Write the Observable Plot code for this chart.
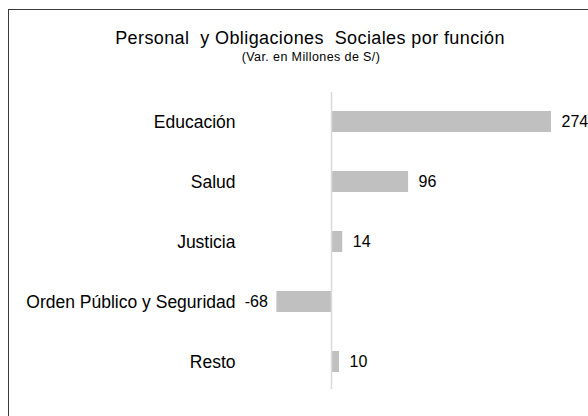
<!DOCTYPE html>
<html>
<head>
<meta charset="utf-8">
<script src="https://cdn.jsdelivr.net/npm/d3@7"></script>
<script src="https://cdn.jsdelivr.net/npm/@observablehq/plot@0.6"></script>
<style>
  html, body { margin: 0; padding: 0; background: #fff; }
  #wrap { position: relative; width: 588px; height: 416px; overflow: hidden; font-family: "Liberation Sans", Arial, sans-serif; }
  #frame { position: absolute; left: 8px; top: 9px; width: 640px; height: 460px; border: 1.5px solid #3a3a3a; box-sizing: border-box; }
  #title { position: absolute; left: 0; width: 620px; top: 28px; text-align: center; font-size: 18px; letter-spacing: 0.4px; color: #000; white-space: pre; line-height: normal; }
  #subtitle { position: absolute; left: 0; width: 622px; top: 50px; text-align: center; font-size: 12.5px; letter-spacing: 0.4px; color: #000; line-height: normal; }
  #chart { position: absolute; left: 0; top: 0; }
</style>
</head>
<body>
<div id="wrap">
  <div id="frame"></div>
  <div id="chart"></div>
  <div id="title">Personal  y Obligaciones  Sociales por función</div>
  <div id="subtitle">(Var. en Millones de S/)</div>
</div>
<script>
const categories = ["Educación", "Salud", "Justicia", "Orden Público y Seguridad", "Resto"];
const values = [274, 96, 14, -68, 10];

const data = categories.map((c, i) => ({category: c, value: values[i]}));
const positives = data.filter(d => d.value >= 0);
const negatives = data.filter(d => d.value < 0);

const chart = Plot.plot({
  width: 588,
  height: 416,
  marginTop: 92,
  marginBottom: 27,
  marginLeft: 0,
  marginRight: 0,
  style: {background: "transparent", fontFamily: "Liberation Sans, Arial, sans-serif"},
  x: {domain: [-100, 300], range: [331 - 100 * 0.803, 331 + 300 * 0.803], axis: null},
  y: {domain: categories, range: [91, 391], paddingInner: 0.65, paddingOuter: 0.325, axis: null},
  marks: [
    Plot.barX(data, {x: "value", y: "category", fill: "#c0c0c0"}),
    Plot.ruleX([0], {stroke: "#d9d9d9", strokeWidth: 1.5}),
    Plot.text(data, {x: 0, y: "category", text: "category", textAnchor: "end", dx: -96, fontSize: 17.5, fill: "#000"}),
    Plot.text(positives, {x: "value", y: "category", text: d => String(d.value), textAnchor: "start", dx: 10, fontSize: 16, fill: "#000"}),
    Plot.text(negatives, {x: "value", y: "category", text: d => String(d.value), textAnchor: "end", dx: -9, fontSize: 16, fill: "#000"})
  ]
});
document.getElementById("chart").appendChild(chart);
</script>
</body>
</html>
